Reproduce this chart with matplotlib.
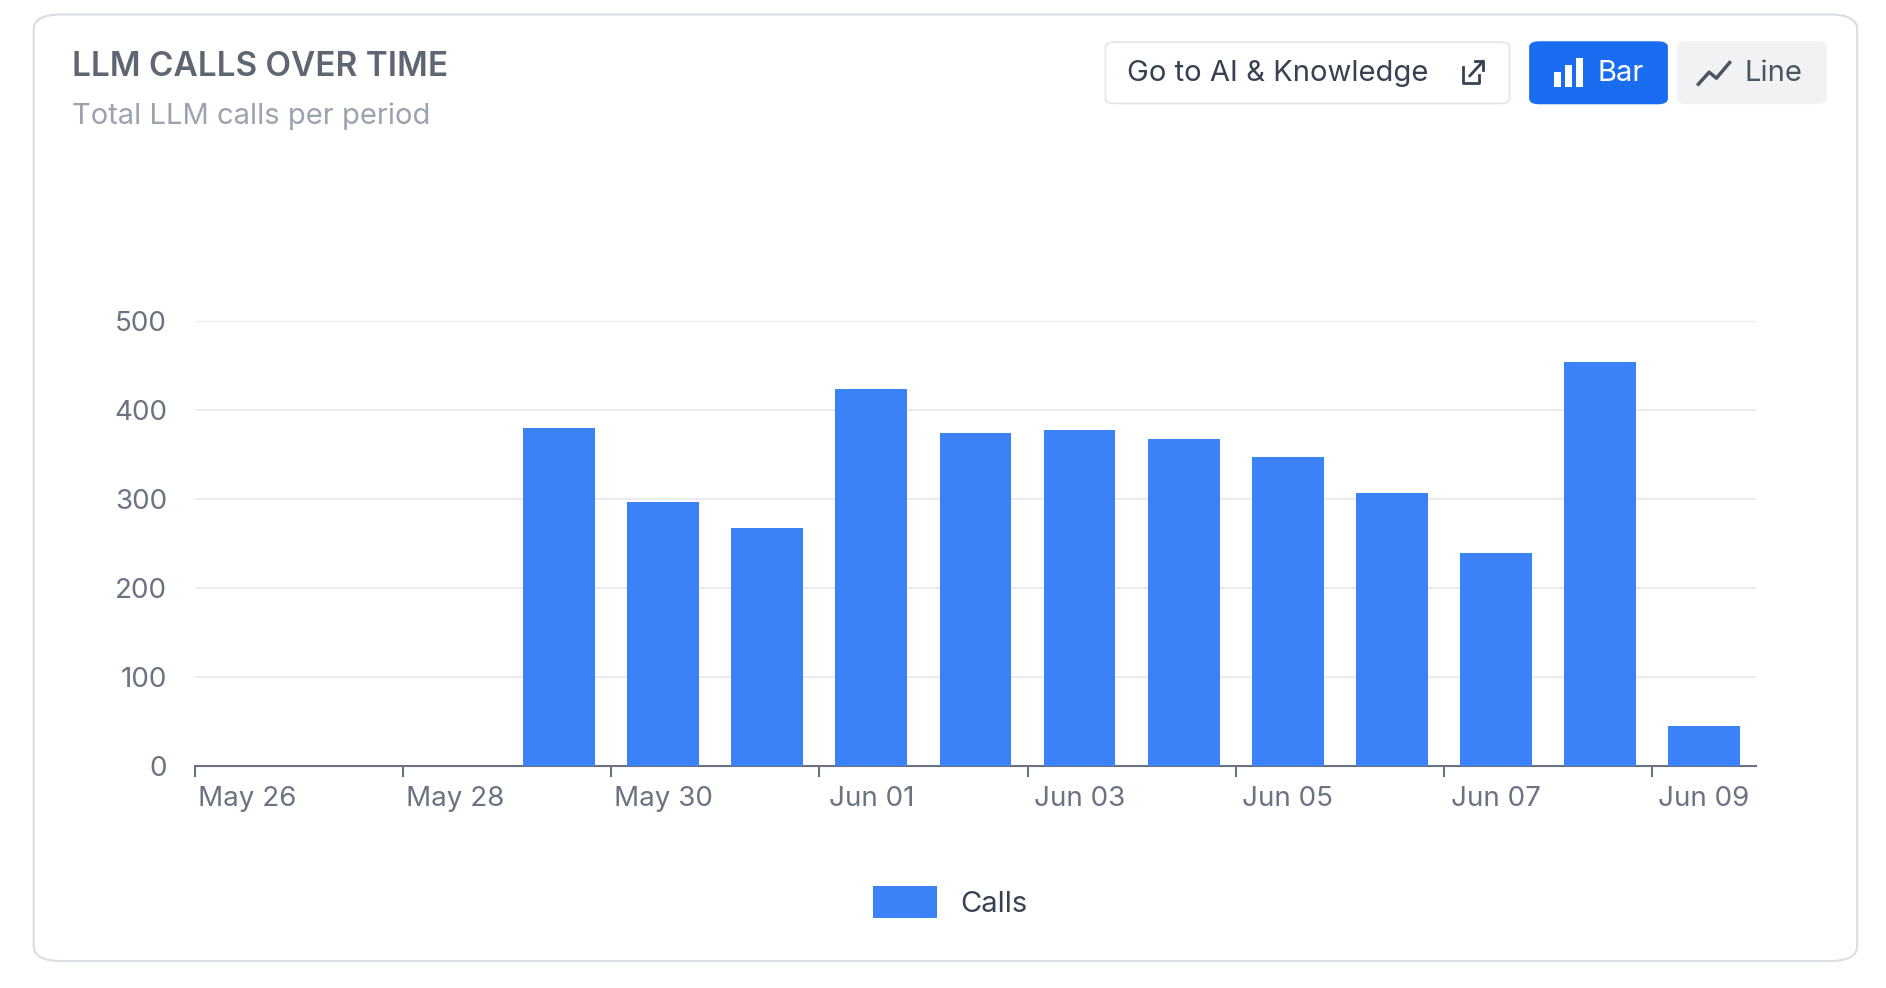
import matplotlib
matplotlib.use("Agg")
import matplotlib.pyplot as plt
from matplotlib.patches import FancyBboxPatch, Rectangle
from matplotlib.lines import Line2D
import numpy as np

dates = ["May 26","May 27","May 28","May 29","May 30","May 31","Jun 01","Jun 02",
         "Jun 03","Jun 04","Jun 05","Jun 06","Jun 07","Jun 08","Jun 09"]
calls = [0, 0, 0, 380, 297, 268, 424, 374, 378, 368, 347, 307, 239, 454, 45]
yticks = [0, 100, 200, 300, 400, 500]

plt.rcParams['font.family'] = ['Inter', 'DejaVu Sans']
W, H = 1886, 988
fig = plt.figure(figsize=(W/100, H/100), dpi=100)
fig.patch.set_facecolor('white')
S = 1886/1568
def fx(x): return x/1568
def fy(y): return 1 - y/(H/S)

card = FancyBboxPatch((fx(28), fy(799)), fx(1544)-fx(28), fy(12)-fy(799),
                      boxstyle="round,pad=0,rounding_size=0.015", transform=fig.transFigure,
                      facecolor='white', edgecolor='#d9dce1', linewidth=1.5, zorder=-5)
fig.patches.append(card)

fig.text(fx(60), fy(56), "LLM CALLS OVER TIME", fontsize=24, fontweight='semibold',
         color='#5f6673', va='center', ha='left')
fig.text(fx(60), fy(97), "Total LLM calls per period", fontsize=21, color='#9ca3af',
         va='center', ha='left')

def box(x0, x1, y0, y1, fc, ec):
    b = FancyBboxPatch((fx(x0), fy(y1)), fx(x1)-fx(x0), fy(y0)-fy(y1),
                       boxstyle="round,pad=0,rounding_size=0.005", transform=fig.transFigure,
                       facecolor=fc, edgecolor=ec, linewidth=1.2)
    fig.patches.append(b)

box(919, 1255, 35, 86, 'white', '#e3e5e8')
fig.text(fx(937), fy(61), "Go to AI & Knowledge", fontsize=21, color='#374151', ha='left', va='center')
# external link icon
fig.lines.append(Line2D([fx(1216), fx(1216), fx(1230), fx(1230)], [fy(56), fy(69), fy(69), fy(62)],
                        transform=fig.transFigure, color='#374151', lw=2))
fig.lines.append(Line2D([fx(1222), fx(1233)], [fy(63), fy(51)], transform=fig.transFigure, color='#374151', lw=2))
fig.lines.append(Line2D([fx(1226), fx(1233), fx(1233)], [fy(51), fy(51), fy(58)], transform=fig.transFigure, color='#374151', lw=2))

box(1272, 1386, 35, 86, '#1a6cf0', '#1a6cf0')
for bx, top in [(1292, 60), (1301, 54), (1310, 48)]:
    fig.patches.append(Rectangle((fx(bx), fy(72)), fx(6), fy(top)-fy(72), transform=fig.transFigure,
                                 facecolor='white', edgecolor='none'))
fig.text(fx(1328), fy(61), "Bar", fontsize=21, color='white', ha='left', va='center')

box(1395, 1518, 35, 86, '#f1f2f4', '#f1f2f4')
fig.lines.append(Line2D([fx(1412), fx(1421), fx(1427), fx(1438)], [fy(70), fy(60), fy(65), fy(52)],
                        transform=fig.transFigure, color='#4b5563', lw=2.5))
fig.text(fx(1450), fy(61), "Line", fontsize=21, color='#4b5563', ha='left', va='center')

ax = fig.add_axes([fx(162), fy(637), fx(1460)-fx(162), fy(267)-fy(637)], zorder=3)
x = np.arange(len(dates))
ax.bar(x, calls, width=0.69, color='#3b82f6', label='Calls', zorder=3)
ax.set_xlim(-0.5, len(dates)-0.5)
ax.set_ylim(0, 500)
ax.set_yticks(yticks)
ax.set_yticklabels([str(v) for v in yticks], fontsize=20, color='#6b7280')
ax.grid(axis='y', color='#e5e7eb', linewidth=1.2, zorder=0)
for s in ['top', 'right', 'left']:
    ax.spines[s].set_visible(False)
ax.spines['bottom'].set_color('#6b7280')
ax.spines['bottom'].set_linewidth(1.5)
ax.tick_params(axis='y', length=0, pad=20)
ax.set_xticks(np.arange(-0.5, len(dates), 2))
ax.set_xticklabels([])
ax.tick_params(axis='x', length=8, color='#6b7280', width=1.5)
for i in range(0, len(dates), 2):
    ax.text(i, -0.045, dates[i], transform=ax.get_xaxis_transform(), ha='center', va='top',
            fontsize=20, color='#6b7280')
ax.set_facecolor('none')

leg = fig.legend(*ax.get_legend_handles_labels(), loc='center', bbox_to_anchor=(fx(790), fy(750)),
                 frameon=False, fontsize=21, handlelength=2.2, handleheight=1.3)
for t in leg.get_texts():
    t.set_color('#374151')

fig.savefig("out.png", dpi=100)
